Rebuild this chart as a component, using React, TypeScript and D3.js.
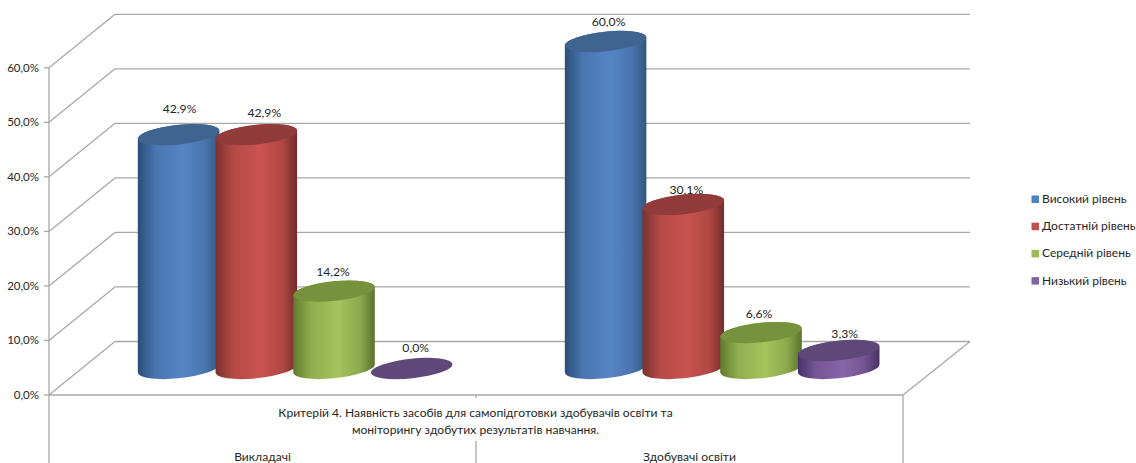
import React from "react";
import * as d3 from "d3";

const groups = ["Викладачі", "Здобувачі освіти"];
const seriesNames = ["Високий рівень", "Достатній рівень", "Середній рівень", "Низький рівень"];
const teachers = [42.9, 42.9, 14.2, 0.0];
const students = [60.0, 30.1, 6.6, 3.3];
const yTicks = [0, 10, 20, 30, 40, 50, 60];
const titleLines = [
  "Критерій 4. Наявність засобів для самопідготовки здобувачів освіти та",
  "моніторингу здобутих результатів навчання.",
];

// Cylinder shading: edge, highlight, far edge, lid, legend swatch.
const palette = [
  { a: "#2b4e78", b: "#5585c6", c: "#33567e", lid: "#3f648f", key: "#4f81bd" },
  { a: "#7a3230", b: "#cb5350", c: "#722e2c", lid: "#913c3a", key: "#c0504d" },
  { a: "#5f7a2c", b: "#a4c45c", c: "#59712c", lid: "#76923c", key: "#9bbb59" },
  { a: "#473268", b: "#8864a8", c: "#463262", lid: "#5f497a", key: "#8064a2" },
];

// Hand-placed label shifts relative to the cylinder lid centre.
const labelShift = [
  [[1, -26], [8, -22], [-1, -19], [4, -21]],
  [[3, -20], [3, -14], [-2, -19], [6, -17]],
];

const FONT = "Lato, 'Open Sans', sans-serif";
const GRID = "#a8a8a8";
const TEXT = "#262626";

const frontY = d3.scaleLinear().domain([0, 60]).range([395, 67.8]);
const depthX = 66;
const depthY = -53.5;
const floorLeft = 49;
const floorRight = 903;
const groupX = d3.scaleBand().domain(groups).range([floorLeft, floorRight]);

const barBase = 368.5;
const barHeight = d3.scaleLinear().domain([0, 60]).range([0, 327]);
const slot = 77.7;
const rx = 41;
const ry = 9.8;
const tiltDeg = -6;
const tilt = (tiltDeg * Math.PI) / 180;

// Tangent offsets of a tilted ellipse at its left/right extremes.
const tangentT = Math.atan2(-ry * Math.sin(tilt), rx * Math.cos(tilt));
const tanX = rx * Math.cos(tangentT) * Math.cos(tilt) - ry * Math.sin(tangentT) * Math.sin(tilt);
const tanY = rx * Math.cos(tangentT) * Math.sin(tilt) + ry * Math.sin(tangentT) * Math.cos(tilt);

function Cylinder({ cx, value, idx, group }: { cx: number; value: number; idx: number; group: number }) {
  const top = barBase - barHeight(value);
  const col = palette[idx];
  const side =
    `M${cx - tanX},${top - tanY}L${cx - tanX},${barBase - tanY}` +
    `A${rx},${ry} ${tiltDeg} 0 0 ${cx + tanX},${barBase + tanY}` +
    `L${cx + tanX},${top + tanY}A${rx},${ry} ${tiltDeg} 0 0 ${cx - tanX},${top - tanY}Z`;
  return (
    <g>
      {value > 0 && <path d={side} fill={`url(#shade${idx})`} />}
      <ellipse
        cx={cx}
        cy={top}
        rx={rx}
        ry={ry}
        fill={col.lid}
        transform={`rotate(${tiltDeg} ${cx} ${top})`}
      />
      <text
        x={cx + labelShift[group][idx][0]}
        y={top + labelShift[group][idx][1] + 4}
        textAnchor="middle"
        fontSize={12.2}
        fill={TEXT}
      >
        {`${value.toFixed(1).replace(".", ",")}%`}
      </text>
    </g>
  );
}

export default function App() {
  const columns = [teachers, students];
  const firstCenters = [178.6, 605.6];
  return (
    <svg
      width={1136}
      height={463}
      viewBox="0 0 1136 463"
      style={{ position: "absolute", left: 0, top: 0, background: "#fff" }}
      fontFamily={FONT}
    >
      <defs>
        {palette.map((p, i) => (
          <linearGradient id={`shade${i}`} key={i} x1="0" x2="1" y1="0" y2="0">
            <stop offset="0" stopColor={p.a} />
            <stop offset="0.22" stopColor={d3.interpolateRgb(p.a, p.b)(0.72)} />
            <stop offset="0.55" stopColor={p.b} />
            <stop offset="0.82" stopColor={d3.interpolateRgb(p.c, p.b)(0.68)} />
            <stop offset="1" stopColor={p.c} />
          </linearGradient>
        ))}
      </defs>

      {/* Back wall, side wall and floor */}
      <g stroke={GRID} strokeWidth={1.3} fill="none">
        {yTicks.map((t) => {
          const y = frontY(t);
          return (
            <g key={t}>
              <line x1={floorLeft - 5} x2={floorLeft} y1={y} y2={y} />
              <line x1={floorLeft} y1={y} x2={floorLeft + depthX} y2={y + depthY} />
              <line x1={floorLeft + depthX} y1={y + depthY} x2={floorRight + depthX + 1} y2={y + depthY} />
            </g>
          );
        })}
        <line x1={floorLeft} x2={floorRight} y1={395} y2={395} />
        <line x1={floorRight} y1={395} x2={floorRight + depthX + 1} y2={395 + depthY} />
        <line x1={floorLeft} x2={floorLeft} y1={frontY(60)} y2={463} />
        <line x1={floorRight} x2={floorRight} y1={395} y2={463} />
        <line x1={groupX(groups[1])} x2={groupX(groups[1])} y1={441} y2={463} />
        <line x1={groupX(groups[1])} x2={groupX(groups[1])} y1={395} y2={398} />
      </g>

      {/* Value axis labels */}
      <g fontSize={11.5} fill={TEXT} textAnchor="end">
        {yTicks.map((t) => (
          <text key={t} x={39} y={frontY(t) + 4}>
            {`${t.toFixed(1).replace(".", ",")}%`}
          </text>
        ))}
      </g>

      {/* Cylinders, painted left to right so each overlaps its neighbour */}
      {columns.map((vals, g) =>
        vals.map((v, i) => (
          <Cylinder key={`${g}-${i}`} cx={firstCenters[g] + slot * i} value={v} idx={i} group={g} />
        ))
      )}

      {/* Category axis text */}
      <g fontSize={12.1} fill={TEXT} textAnchor="middle">
        {titleLines.map((line, i) => (
          <text key={i} x={475.5} y={417 + i * 17}>
            {line}
          </text>
        ))}
        {groups.map((g) => (
          <text key={g} x={groupX(g)! + groupX.bandwidth() / 2} y={461}>
            {g}
          </text>
        ))}
      </g>

      {/* Legend */}
      <g fontSize={12} fill={TEXT}>
        {seriesNames.map((name, i) => {
          const y = 199 + i * 27.2;
          return (
            <g key={name}>
              <rect x={1031.5} y={y - 3.5} width={7.5} height={7.5} fill={palette[i].key} />
              <text x={1042} y={y + 4}>
                {name}
              </text>
            </g>
          );
        })}
      </g>
    </svg>
  );
}
